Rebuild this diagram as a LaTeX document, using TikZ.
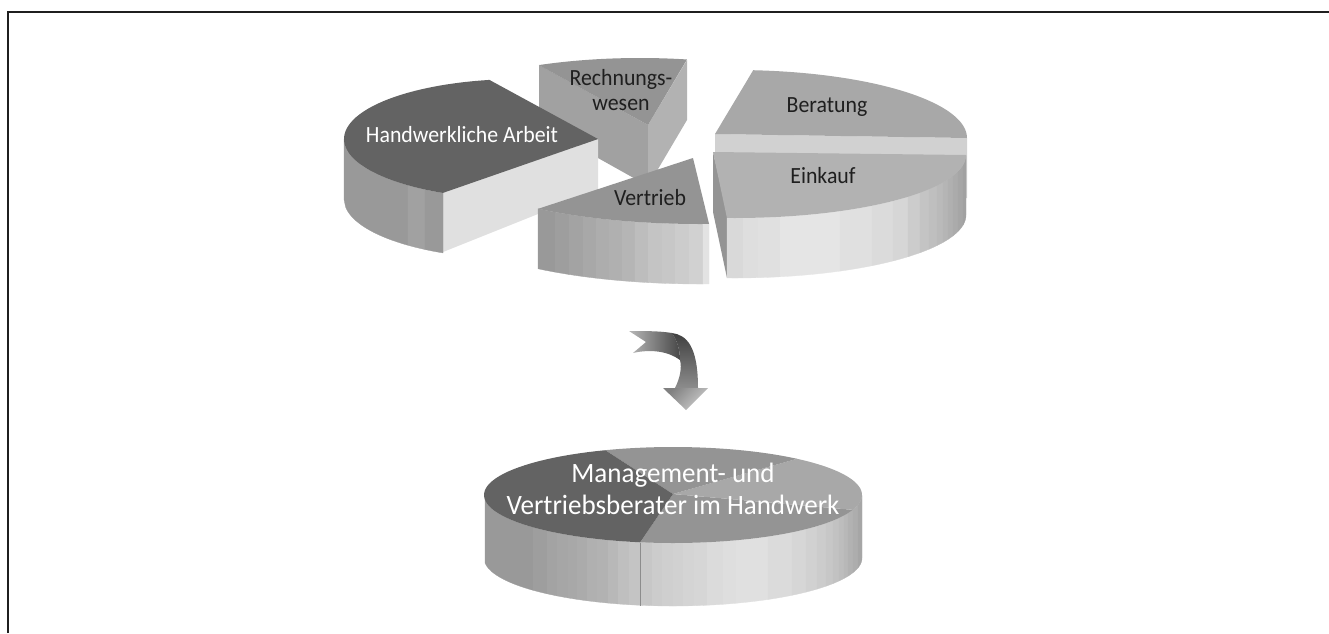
\documentclass[tikz,border=0pt]{standalone}
\usepackage{fontspec}
\setmainfont{Carlito}
\newcommand{\stripband}[6]{%
  \foreach \a/\b/\v in {#6}{%
    \fill[black!\v,draw=black!\v,line width=0.15pt]
      plot[domain=\a:\b,samples=40] (\x,{#2+#4*sqrt(max(0,1-((\x-#1)/#3)*((\x-#1)/#3)))})
      -- plot[domain=\b:\a,samples=40] (\x,{#2+#5+#4*sqrt(max(0,1-((\x-#1)/#3)*((\x-#1)/#3)))})
      -- cycle;
  }}
\newcommand{\earc}[6]{plot[domain=#5:#6,samples=50] ({#1+#3*cos(\x)},{#2+#4*sin(\x)})}
\tikzset{
  darktext/.style={text=black!88,font=\fontsize{11.6}{12.6}\selectfont,align=center,inner sep=0pt,xscale=0.94,transform shape},
  whitetext/.style={text=white,font=\fontsize{11.6}{13.3}\selectfont,align=center,inner sep=0pt,xscale=0.94,transform shape},
  bigtext/.style={text=white,font=\fontsize{14}{16}\selectfont,align=center,inner sep=0pt,xscale=0.965,transform shape},
}
\begin{document}
\begin{tikzpicture}[x=0.5pt,y=-0.5pt]
\useasboundingbox (0,0) rectangle (1329,633);
% frame
\draw[black!88,line width=1pt] (7.5,633) -- (7.5,11.5) -- (1329,11.5);

% Rechnungswesen
\fill[black!37] (539,65) -- (648,125) -- (648,186) -- (539,125) -- cycle;
\fill[black!30] (648,125) -- (687,60) -- (687,120) -- (648,186) -- cycle;
\fill[black!42] \earc{640}{125}{226}{67}{243.4}{282} -- (648,125) -- cycle;

% Handwerkliche Arbeit
\fill[black!12] (443,192) -- (598,139) -- (598,190) -- (443,252) -- cycle;
\stripband{520}{139}{176}{60}{60}{344/408/40,408/425/37,425/443/40}
\fill[black!61] \earc{520}{139}{176}{60}{260}{116} -- (598,139) -- cycle;

% Vertrieb
\stripband{700}{154}{260}{70}{60}{538/555/40,555/569/38,569/583/36,583/596/34,596/609/32,609/622/31,622/635/29,635/648/26,648/662/23,662/675/22,675/689/20,689/703/18,703/709/11}
\fill[black!42] \earc{700}{154}{260}{70}{128.5}{88} -- (693,158) -- cycle;

% Beratung
\fill[black!18] (715,134) -- (967,138) -- (967,198) -- (715,198) -- cycle;
\fill[black!34] \earc{735}{138}{232}{68}{-85.5}{0} -- (715,134) -- cycle;

% Einkauf
\fill[black!42] (713,152) -- (728,217) -- (727,278) -- (713,212) -- cycle;
\stripband{735}{155}{231}{63}{60}{727/743/15,743/758/13,758/780/12,780/840/10,840/872/12,872/893/14,893/908/16,908/920/20,920/929/23,929/937/25,937/943/27,943/948/29,948/953/31,953/958/33,958/963/35,963/966/37}
\fill[black!30] \earc{735}{155}{231}{63}{0}{92} -- (713,152) -- cycle;

% arrow
\shade[left color=black!28,right color=black!72]
  (629,331) -- (646,342) -- (633,353) .. controls (650,349) and (668,351) .. (680,360)
  .. controls (680,350) and (677,340) .. (672,333) .. controls (660,331) and (645,331) .. (629,331) -- cycle;
\shade[top color=black!75,bottom color=black!45]
  (672,333) .. controls (686,335) and (698,345) .. (698,388) -- (675,388)
  .. controls (680,378) and (682,368) .. (680,360) .. controls (680,350) and (677,340) .. (672,333) -- cycle;
\shade[left color=black!50,right color=black!20,shading angle=45]
  (663,388) -- (708,388) -- (686,410) -- cycle;

% lower disc
\stripband{673}{495}{189}{48}{63}{485/533/40,533/547/38,547/557/36,557/568/35,568/577/34,577/587/33,587/597/31,597/608/30,608/618/28,618/629/25,629/640/23,640/652/22,652/662/20,662/673/19,673/683/18,683/694/17,694/707/16,707/723/14,723/736/13,736/768/12,768/792/14,792/806/16,806/817/18,817/826/20,826/833/22,833/839/24,839/844/26,844/848/28,848/853/30,853/858/32,858/862/35}
\draw[black!45,line width=0.2pt] (640,543) -- (640,606);
\fill[black!42] \earc{673}{495}{189}{48}{18}{100} -- (673,494) -- cycle;
\fill[black!34] \earc{673}{495}{189}{48}{311}{378} -- (673,494) -- cycle;
\fill[black!42] \earc{673}{495}{189}{48}{249}{311} -- (673,494) -- cycle;
\fill[black!61] \earc{673}{495}{189}{48}{100}{249} -- (673,494) -- cycle;

% labels
\node[darktext] (rw) at (621,90) {Rechnungs-\\wesen};
\node[whitetext] (ha) at (462,135) {Handwerkliche Arbeit};
\node[darktext] (ve) at (650,198) {Vertrieb};
\node[darktext] (be) at (827,107) {Beratung};
\node[darktext] (ei) at (823,176) {Einkauf};
\node[bigtext] (mv) at (673,489) {Management- und\\Vertriebsberater im Handwerk};
\end{tikzpicture}
\end{document}
